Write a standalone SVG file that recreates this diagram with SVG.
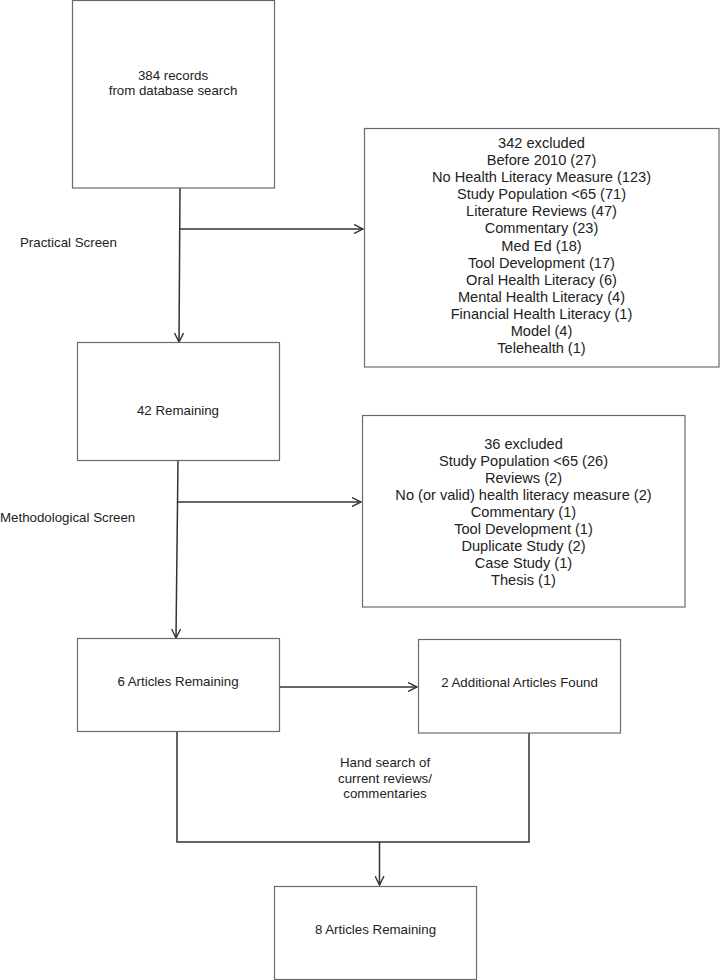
<svg xmlns="http://www.w3.org/2000/svg" width="721" height="980" viewBox="0 0 721 980">
<style>
.box{fill:#fff;stroke:#6b6b6b;stroke-width:1.2}
.t{font-family:"Liberation Sans",Arial,sans-serif;font-size:13.3px;fill:#222;text-anchor:middle}
.e{font-family:"Liberation Sans",Arial,sans-serif;font-size:14.6px;fill:#222;text-anchor:middle}
.l{font-family:"Liberation Sans",Arial,sans-serif;font-size:13.3px;fill:#222}
.c{fill:none;stroke:#333;stroke-width:1.5}
</style>
<defs>
<marker id="ah" viewBox="0 0 10 10" refX="9.5" refY="5" markerWidth="10" markerHeight="10" markerUnits="userSpaceOnUse" orient="auto">
<path d="M0.5,0.5 L9.5,5 L0.5,9.5" fill="none" stroke="#333" stroke-width="1.4"/>
</marker>
</defs>
<g id="connectors">
<line class="c" x1="180" y1="188" x2="179" y2="342" marker-end="url(#ah)"/>
<line class="c" x1="179" y1="229" x2="363" y2="229" marker-end="url(#ah)"/>
<line class="c" x1="178" y1="460" x2="176" y2="638" marker-end="url(#ah)"/>
<line class="c" x1="177" y1="502" x2="361" y2="502" marker-end="url(#ah)"/>
<line class="c" x1="278" y1="687" x2="417" y2="687" marker-end="url(#ah)"/>
<polyline class="c" points="177,732 177,842 529,842 529,733"/>
<line class="c" x1="379.5" y1="842" x2="379.5" y2="885" marker-end="url(#ah)"/>
</g>
<g id="labels">
<text class="l" x="20" y="247">Practical Screen</text>
<text class="l" x="0" y="522">Methodological Screen</text>
<text class="t" x="385" y="767">Hand search of</text>
<text class="t" x="385" y="782.5">current reviews/</text>
<text class="t" x="385" y="798">commentaries</text>
</g>
<g id="n1">
<rect class="box" x="72.5" y="0.5" width="202" height="187.5"/>
<text class="t" x="173" y="80">384 records</text>
<text class="t" x="173" y="95">from database search</text>
</g>
<g id="n2">
<rect class="box" x="364.5" y="128.5" width="354.5" height="238.5"/>
<text class="e" x="541.5" y="148">342 excluded</text>
<text class="e" x="541.5" y="165">Before 2010 (27)</text>
<text class="e" x="541.5" y="182">No Health Literacy Measure (123)</text>
<text class="e" x="541.5" y="199.2">Study Population &lt;65 (71)</text>
<text class="e" x="541.5" y="216.3">Literature Reviews (47)</text>
<text class="e" x="541.5" y="233.4">Commentary (23)</text>
<text class="e" x="541.5" y="250.5">Med Ed (18)</text>
<text class="e" x="541.5" y="267.6">Tool Development (17)</text>
<text class="e" x="541.5" y="284.7">Oral Health Literacy (6)</text>
<text class="e" x="541.5" y="301.8">Mental Health Literacy (4)</text>
<text class="e" x="541.5" y="318.9">Financial Health Literacy (1)</text>
<text class="e" x="541.5" y="336">Model (4)</text>
<text class="e" x="541.5" y="353">Telehealth (1)</text>
</g>
<g id="n3">
<rect class="box" x="77.5" y="342.5" width="202" height="118"/>
<text class="t" x="178" y="415">42 Remaining</text>
</g>
<g id="n4">
<rect class="box" x="362.5" y="415.5" width="322.5" height="191.5"/>
<text class="e" x="523.5" y="448.5">36 excluded</text>
<text class="e" x="523.5" y="465.7">Study Population &lt;65 (26)</text>
<text class="e" x="523.5" y="482.8">Reviews (2)</text>
<text class="e" x="523.5" y="499.9">No (or valid) health literacy measure (2)</text>
<text class="e" x="523.5" y="517">Commentary (1)</text>
<text class="e" x="523.5" y="534.1">Tool Development (1)</text>
<text class="e" x="523.5" y="551.2">Duplicate Study (2)</text>
<text class="e" x="523.5" y="568.3">Case Study (1)</text>
<text class="e" x="523.5" y="585.4">Thesis (1)</text>
</g>
<g id="n5">
<rect class="box" x="77.5" y="638.5" width="202" height="93"/>
<text class="t" x="178" y="686">6 Articles Remaining</text>
</g>
<g id="n6">
<rect class="box" x="418.5" y="639.5" width="202" height="93.5"/>
<text class="t" x="519.5" y="687">2 Additional Articles Found</text>
</g>
<g id="n7">
<rect class="box" x="274.5" y="886.5" width="202" height="93"/>
<text class="t" x="375.5" y="933.5">8 Articles Remaining</text>
</g>
</svg>
